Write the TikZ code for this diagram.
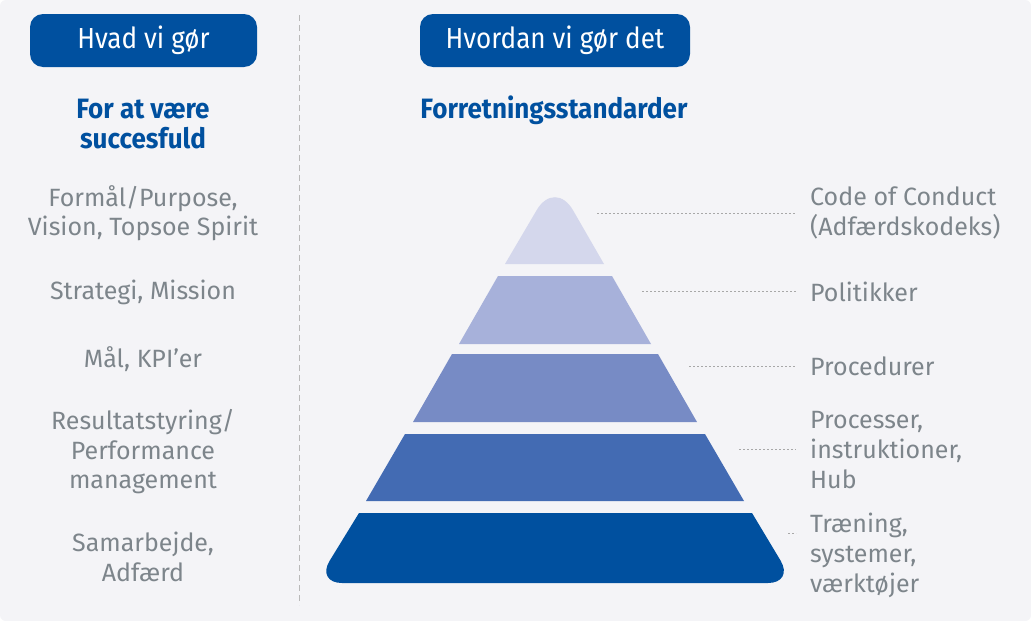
\documentclass[tikz,border=0pt]{standalone}
\usepackage{fontspec}
\setmainfont{Fira Sans}
\newfontfamily\condfont[FakeStretch=0.9]{Fira Sans}
\newfontfamily\condbold[FakeStretch=0.93,BoldFont={Fira Sans Bold}]{Fira Sans}
\usetikzlibrary{calc}
\definecolor{bg}{HTML}{F4F4F7}
\definecolor{tblue}{HTML}{00509F}
\definecolor{lone}{HTML}{D4D7EC}
\definecolor{ltwo}{HTML}{A7B1DA}
\definecolor{lthree}{HTML}{778BC5}
\definecolor{lfour}{HTML}{436BB3}
\definecolor{txtgray}{HTML}{7D858B}
\definecolor{dotgray}{HTML}{A8A8A8}
\begin{document}
\begin{tikzpicture}[x=1pt,y=-1pt,
  pill/.style={fill=tblue,rounded corners=13pt,minimum width=#1,minimum height=53pt,text=white,inner sep=0pt,font=\condfont\fontsize{29}{32}\selectfont},
  heading/.style={text=tblue,align=center,font=\condbold\bfseries\fontsize{28}{29.5}\selectfont,inner sep=0pt},
  lefttxt/.style={text=txtgray,align=center,font=\fontsize{25}{29.5}\selectfont,inner sep=0pt},
  righttxt/.style={text=txtgray,align=left,anchor=west,font=\fontsize{25}{30}\selectfont,inner sep=0pt},
  leader/.style={draw=dotgray,line width=0.9pt,dash pattern=on 2pt off 2pt}]
\useasboundingbox (0,0) rectangle (1031,621);
\fill[white] (0,0) rectangle (1031,621);
\fill[bg,rounded corners=6pt] (0,0) rectangle (1031,621);
% divider
\draw[draw=dotgray!80,line width=0.9pt,dash pattern=on 6pt off 4pt] (299,15) -- (299,605);
% headers
\node[pill=227pt] (h1) at (143.5,40.5) {Hvad vi gør};
\node[pill=270pt] (h2) at (555,40.5) {Hvordan vi gør det};
\node[heading] (s1) at (143,124) {For at være\\succesfuld};
\node[heading] (s2) at (554,110) {Forretningsstandarder};
% left texts
\node[lefttxt] (l1) at (143,213) {Formål/Purpose,\\Vision, Topsoe Spirit};
\node[lefttxt] (l2) at (143,292) {Strategi, Mission};
\node[lefttxt] (l3) at (143,359) {Mål, KPI’er};
\node[lefttxt] (l4) at (143,452) {Resultatstyring/\\Performance\\management};
\node[lefttxt] (l5) at (143,557) {Samarbejde,\\Adfærd};
% pyramid
\fill[lone] (505,264) [rounded corners=36pt] -- (555,179) [sharp corners] -- (604,264) -- cycle;
\fill[ltwo] (498,276) -- (612,276) -- (651,344) -- (459,344) -- cycle;
\fill[lthree] (452,354) -- (658,354) -- (697,422) -- (413,422) -- cycle;
\fill[lfour] (405,434) -- (705,434) -- (744,501) -- (366,501) -- cycle;
\fill[tblue] (359,513) -- (752,513) [rounded corners=26pt] -- (794,583) -- (316,583) [sharp corners] -- cycle;
\coordinate (p1) at (597,213);
\coordinate (p2) at (642,291);
\coordinate (p3) at (689,366);
\coordinate (p4) at (739,449);
\coordinate (p5) at (788,533);
% right texts
\node[righttxt] (r1) at (810,213) {Code of Conduct\\(Adfærdskodeks)};
\node[righttxt] (r2) at (810,292) {Politikker};
\node[righttxt] (r3) at (810,366) {Procedurer};
\node[righttxt] (r4) at (810,450) {Processer,\\instruktioner,\\Hub};
\node[righttxt] (r5) at (810,555) {Træning,\\systemer,\\værktøjer};
% leaders
\foreach \i in {1,...,5}{
  \draw[leader] (p\i) -- ($(p\i -| r\i.west)+(-14,0)$);
}
\end{tikzpicture}
\end{document}
